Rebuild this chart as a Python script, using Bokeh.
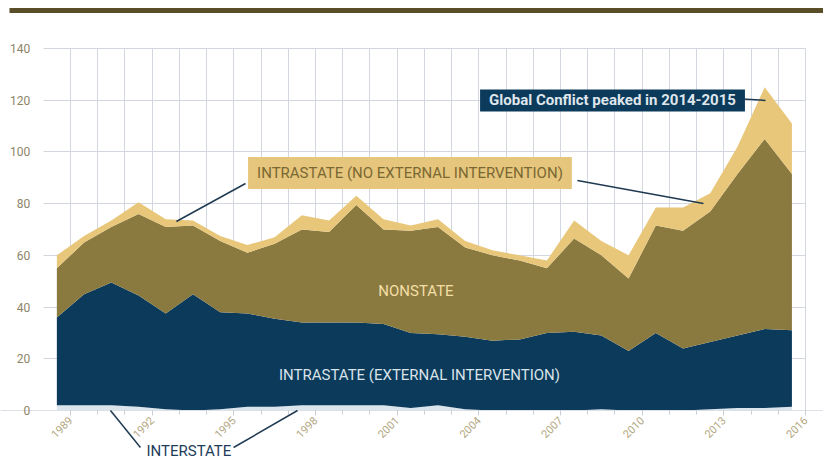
import math
from bokeh.plotting import figure
from bokeh.models import FixedTicker, Label, Arrow, ColumnDataSource, BoxAnnotation
from bokeh.embed import file_html
from bokeh.resources import INLINE

# ---- data ----
years = list(range(1989, 2017))
interstate = [2, 2, 2, 1.5, 0.5, 0, 0.5, 1.5, 1.5, 2, 2, 2, 2, 1, 2, 0.5, 0, 0, 0, 0,
              0.5, 0, 0, 0, 0.5, 1, 1, 1.5]
intrastate_ext = [34, 43, 47.5, 43, 37, 45, 37.5, 36, 34, 32, 32, 32, 31.5, 29, 27.5, 28,
                  27, 27.5, 30, 30.5, 28.5, 23, 30, 24, 26, 28, 30.5, 29.5]
nonstate = [19, 20, 21.5, 31.5, 33.5, 26.5, 27.5, 23.5, 29, 36, 35, 45.5, 36.5, 39.5, 41.5,
            34.5, 33, 30.5, 25, 36, 31, 28, 41.5, 45.5, 50.5, 62.5, 73.5, 60.5]
intrastate_noext = [5, 2.5, 2.5, 4.5, 3, 2, 2, 3, 2.5, 5.5, 4.5, 3.5, 4, 2, 3, 2.5, 2, 2, 3,
                    7, 5.5, 9, 7, 9, 7, 10.5, 20, 19.5]
y_ticks = [0, 20, 40, 60, 80, 100, 120, 140]
x_label_years = [1989, 1992, 1995, 1998, 2001, 2004, 2007, 2010, 2013, 2016]
x_minor_years = list(range(1989, 2017))

FONT = "Roboto"
NAVY = "#0b3a5b"
OLIVE = "#8b7a40"
TAN = "#e8c77a"
PALE = "#dbe5ec"
GRID = "#d3d7df"

x = [yr - 0.5 for yr in years]
src = ColumnDataSource(dict(x=x, interstate=interstate, intrastate_ext=intrastate_ext,
                            nonstate=nonstate, intrastate_noext=intrastate_noext))

p = figure(width=823, height=464, x_range=(1986.43, 2016.66), y_range=(-20.88, 158.55),
           output_backend="svg", toolbar_location=None, min_border=0)
p.outline_line_color = None

p.varea_stack(["interstate", "intrastate_ext", "nonstate", "intrastate_noext"], x="x",
              color=[PALE, NAVY, OLIVE, TAN], source=src)

# axes (placed at fixed data positions so the frame can hold the annotations)
p.xaxis.fixed_location = 0
p.xaxis.ticker = FixedTicker(ticks=x_label_years, minor_ticks=x_minor_years)
p.xaxis.major_label_orientation = math.pi / 4
p.xaxis.major_label_text_font = FONT
p.xaxis.major_label_text_font_size = "11px"
p.xaxis.major_label_text_color = "#b3a882"
p.xaxis.axis_line_color = "#dde0e6"
p.xaxis.major_tick_line_color = "#c9cdd5"
p.xaxis.minor_tick_line_color = "#c9cdd5"
p.xaxis.major_tick_in = 0
p.xaxis.major_tick_out = 5
p.xaxis.minor_tick_in = 0
p.xaxis.minor_tick_out = 4
p.xaxis.major_label_standoff = 3

p.yaxis.fixed_location = 1988.0
p.yaxis.ticker = FixedTicker(ticks=y_ticks, minor_ticks=[])
p.yaxis.axis_line_color = None
p.yaxis.major_tick_line_color = None
p.yaxis.major_label_text_font = FONT
p.yaxis.major_label_text_font_size = "12px"
p.yaxis.major_label_text_color = "#8d8567"
p.yaxis.major_label_standoff = 7

p.xgrid.grid_line_color = GRID
p.xgrid.minor_grid_line_color = GRID
p.ygrid.grid_line_color = GRID
try:
    p.xgrid.cross_bounds = (0, 140)
    p.ygrid.cross_bounds = (1988.0, 2016.0)
except AttributeError:
    pass

# top bar
p.add_layout(BoxAnnotation(left=1986.76, right=2017.5, top=155.66, bottom=153.73,
                           fill_color="#5a4e29", fill_alpha=1, line_color=None))

# annotations
LEADER = "#1f3a52"
p.add_layout(Label(x=2001.47, y=91.85, text="INTRASTATE (NO EXTERNAL INTERVENTION)",
                   text_align="center", text_baseline="middle", text_font=FONT,
                   text_font_size="15px", text_color="#7a6833",
                   background_fill_color="#e6c67c", padding=(9, 7)))
p.add_layout(Arrow(end=None, x_start=1995.43, y_start=87.79, x_end=1992.89, y_end=73.09,
                   line_color=LEADER, line_width=1.5))
p.add_layout(Arrow(end=None, x_start=2007.62, y_start=88.95, x_end=2012.25, y_end=80.05,
                   line_color=LEADER, line_width=1.5))

p.add_layout(Label(x=2008.91, y=119.89, text="Global Conflict peaked in 2014-2015",
                   text_align="center", text_baseline="middle", text_font=FONT,
                   text_font_size="15px", text_font_style="bold", text_color="#dfe6ec",
                   background_fill_color=NAVY, padding=(9, 2)))
p.add_layout(Arrow(end=None, x_start=2013.69, y_start=120.5, x_end=2014.53, y_end=119.9,
                   line_color=LEADER, line_width=1.5))

p.add_layout(Label(x=2001.69, y=46.4, text="NONSTATE", text_align="center",
                   text_baseline="middle", text_font=FONT, text_font_size="15px",
                   text_color="#f3dfa6"))
p.add_layout(Label(x=2001.82, y=13.92, text="INTRASTATE (EXTERNAL INTERVENTION)",
                   text_align="center", text_baseline="middle", text_font=FONT,
                   text_font_size="15px", text_color="#d9e3ea"))

p.add_layout(Label(x=1993.35, y=-15.47, text="INTERSTATE", text_align="center",
                   text_baseline="middle", text_font=FONT, text_font_size="15px",
                   text_color="#1d3d5a"))
p.add_layout(Arrow(end=None, x_start=1990.47, y_start=0, x_end=1991.57, y_end=-14.31,
                   line_color=LEADER, line_width=1.5))
p.add_layout(Arrow(end=None, x_start=1994.99, y_start=-14.31, x_end=1997.34, y_end=0,
                   line_color=LEADER, line_width=1.5))

open("out.html", "w").write(file_html(p, INLINE))
